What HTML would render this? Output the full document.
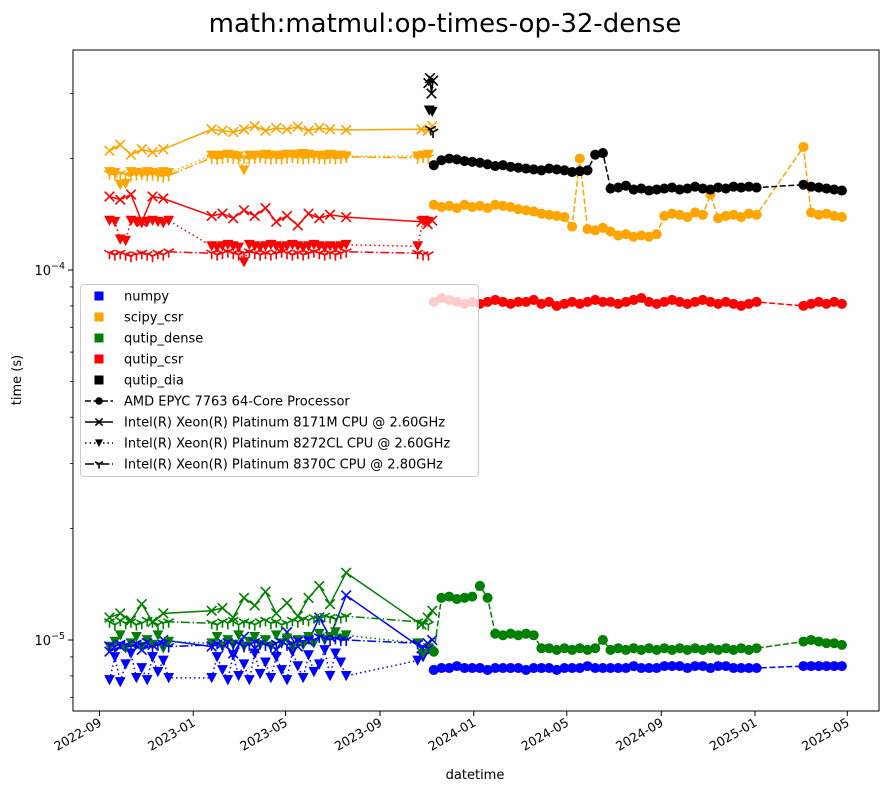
<!DOCTYPE html>
<html><head><meta charset="utf-8"><style>
body{margin:0;background:#fff;font-family:"Liberation Sans","DejaVu Sans",sans-serif}
svg text{font-family:"DejaVu Sans","Liberation Sans",sans-serif}
</style></head><body>
<svg id="chart" width="887" height="792" viewBox="0 0 887 792" xmlns="http://www.w3.org/2000/svg">
<rect x="0" y="0" width="887" height="792" fill="#fff"/>
<text x="445" y="32" font-size="26" text-anchor="middle">math:matmul:op-times-op-32-dense</text>
<text x="475" y="779" font-size="13" text-anchor="middle">datetime</text>
<text x="21" y="380" font-size="13" text-anchor="middle" transform="rotate(-90 21 380)">time (s)</text>
<g id="marks"></g>
<g id="axes"></g>
<g id="legend"></g>
</svg>
<script>
// ---- data (values in microseconds) ----
const amdDates=["2023-11-10","2023-11-20","2023-11-30","2023-12-10","2023-12-20","2023-12-30","2024-01-09","2024-01-19","2024-01-29","2024-02-08","2024-02-18","2024-02-28","2024-03-09","2024-03-19","2024-03-29","2024-04-08","2024-04-18","2024-04-28","2024-05-08","2024-05-18","2024-05-28","2024-06-07","2024-06-17","2024-06-27","2024-07-07","2024-07-17","2024-07-27","2024-08-06","2024-08-16","2024-08-26","2024-09-05","2024-09-15","2024-09-25","2024-10-05","2024-10-15","2024-10-25","2024-11-04","2024-11-14","2024-11-24","2024-12-04","2024-12-14","2024-12-24","2025-01-03","2025-03-05","2025-03-15","2025-03-25","2025-04-04","2025-04-14","2025-04-24"];
const amdNumpy=[8.3,8.4,8.4,8.5,8.4,8.4,8.4,8.3,8.4,8.4,8.4,8.4,8.3,8.4,8.4,8.4,8.3,8.4,8.4,8.4,8.5,8.4,8.4,8.4,8.4,8.4,8.5,8.4,8.4,8.4,8.5,8.5,8.5,8.4,8.5,8.5,8.4,8.5,8.5,8.4,8.4,8.4,8.4,8.5,8.5,8.5,8.5,8.5,8.5];
const amdScipy=[150,148,149,147,150,148,149,147,150,149,148,146,145,144,142,141,140,139,131,200,129,128,130,127,124,125,123,124,123,125,140,142,141,139,143,141,160,138,140,141,139,142,141,215,143,141,142,140,139];
const amdDense=[9.3,13.0,13.1,12.9,13.0,13.1,14.0,13.0,10.4,10.3,10.4,10.3,10.4,10.3,9.5,9.5,9.4,9.5,9.4,9.5,9.4,9.5,10.0,9.4,9.5,9.4,9.5,9.4,9.5,9.4,9.5,9.4,9.5,9.4,9.5,9.4,9.5,9.4,9.5,9.4,9.5,9.4,9.5,9.9,10.0,9.9,9.8,9.8,9.7];
const amdCsr=[82,84,83,82,81,82,81,82,83,82,81,82,82,83,81,82,80,81,82,81,82,83,82,82,81,82,83,84,82,81,82,83,82,81,82,83,82,81,82,81,80,81,82,80,81,82,81,82,81];
const amdDia=[192,198,200,199,197,196,195,193,191,192,190,189,188,187,186,188,187,186,184,185,186,205,207,166,167,169,165,166,164,165,166,167,165,166,168,166,165,167,166,168,167,168,167,170,168,167,166,165,164];

const m1Dates=["2022-09-14","2022-09-28","2022-10-12","2022-10-26","2022-11-09","2022-11-23","2023-01-25","2023-02-08","2023-02-22","2023-03-08","2023-03-22","2023-04-05","2023-04-19","2023-05-03","2023-05-17","2023-05-31","2023-06-14","2023-06-28","2023-07-19","2023-10-25","2023-11-02","2023-11-08"];
const m1Numpy=[9.3,9.6,9.8,9.4,9.7,10.0,9.6,9.8,9.2,10.2,9.5,9.9,9.4,10.5,9.6,9.9,11.5,10.2,13.2,9.5,9.8,10.0];
const m1Scipy=[210,218,205,212,208,212,240,238,236,240,245,238,242,240,244,238,242,240,239,240,238,245];
const m1Dense=[11.5,11.8,11.3,12.5,11.2,11.8,12.0,12.2,11.5,13.0,12.4,13.5,11.8,12.6,11.6,13.0,14.0,12.5,15.2,11.0,11.5,12.0];
const m1Csr=[158,155,160,135,158,156,140,142,138,145,140,147,135,140,132,142,138,141,139,135,133,136];
const m1DiaDates=["2023-11-03","2023-11-05","2023-11-07","2023-11-09"];
const m1Dia=[320,330,300,325];

const m2Dates=["2022-09-14","2022-09-21","2022-09-28","2022-10-05","2022-10-12","2022-10-19","2022-10-26","2022-11-02","2022-11-09","2022-11-16","2022-11-23","2022-11-30","2023-01-25","2023-02-01","2023-02-08","2023-02-15","2023-02-22","2023-03-01","2023-03-08","2023-03-15","2023-03-22","2023-03-29","2023-04-05","2023-04-12","2023-04-19","2023-04-26","2023-05-03","2023-05-10","2023-05-17","2023-05-24","2023-05-31","2023-06-07","2023-06-14","2023-06-21","2023-06-28","2023-07-05","2023-07-12","2023-07-19","2023-10-20","2023-10-27","2023-11-03"];
const m2Numpy=[7.8,9.0,7.7,8.6,9.2,7.9,8.4,7.8,9.0,8.2,8.8,7.9,7.9,9.0,8.3,7.8,9.1,8.0,8.6,7.8,9.2,8.1,8.7,7.9,9.0,8.3,7.8,9.3,8.5,7.9,9.1,8.2,8.6,9.4,8.0,9.2,8.7,8.0,8.8,9.0,9.5];
const m2Scipy=[184,183,170,171,184,183,182,184,183,182,184,183,204,203,204,205,204,203,186,204,203,204,205,204,203,204,205,204,205,206,205,204,203,204,205,204,204,203,203,204,205];
const m2Dense=[9.6,9.9,10.3,9.5,9.8,10.2,9.6,10.0,9.7,10.3,9.5,9.9,9.8,10.2,9.6,10.0,9.7,10.3,9.6,9.9,10.2,9.7,10.0,9.6,10.3,9.8,10.1,9.6,10.0,9.7,10.2,9.8,10.4,10.0,10.2,10.5,10.1,10.3,9.8,9.2,9.5];
const m2Csr=[136,135,121,120,136,135,134,135,136,135,134,136,116,115,116,117,116,115,105,117,116,115,116,117,116,115,116,117,116,115,116,117,116,115,116,115,116,117,116,136,135];
const m2DiaDates=["2023-11-04","2023-11-08"];
const m2Dia=[270,268];

const m3Dates=m2Dates;
const m3Numpy=[9.7,9.6,9.8,9.7,9.6,9.8,9.7,9.9,9.6,9.7,9.8,9.6,9.7,9.8,9.6,9.9,9.7,9.8,9.6,9.7,9.9,9.8,9.7,9.6,9.8,9.9,9.7,9.8,10.0,9.9,10.1,10.0,10.2,10.1,10.0,10.1,10.0,10.0,9.8,9.6,9.5];
const m3Scipy=[182,181,182,181,180,181,182,180,181,180,179,180,201,200,201,202,201,200,201,200,201,202,201,200,201,200,201,202,201,200,201,202,201,200,201,200,201,202,201,202,201];
const m3Dense=[11.2,11.0,11.3,11.1,11.2,11.0,11.1,11.3,11.2,11.0,11.1,11.2,11.1,11.0,11.2,11.1,11.3,11.0,11.2,11.1,11.0,11.2,11.3,11.1,11.2,11.0,11.1,11.3,11.2,11.4,11.3,11.5,11.4,11.6,11.5,11.4,11.5,11.6,11.2,11.1,11.0];
const m3Csr=[111,110,111,110,109,110,111,110,109,111,110,112,111,110,111,112,111,110,111,112,111,110,111,110,111,112,111,110,111,110,111,112,111,110,111,110,111,112,111,110,110];
const m3DiaDates=["2023-11-06","2023-11-09"];
const m3Dia=[240,236];

const xTickLabels=["2022-09","2023-01","2023-05","2023-09","2024-01","2024-05","2024-09","2025-01","2025-05"];
const legendNames=["numpy","scipy_csr","qutip_dense","qutip_csr","qutip_dia"];
const cpuNames=["AMD EPYC 7763 64-Core Processor","Intel(R) Xeon(R) Platinum 8171M CPU @ 2.60GHz","Intel(R) Xeon(R) Platinum 8272CL CPU @ 2.60GHz","Intel(R) Xeon(R) Platinum 8370C CPU @ 2.80GHz"];

// ---- scales ----
const NS="http://www.w3.org/2000/svg";
const L=73,R=879,T=50,B=711;
const T0=Date.UTC(2022,8,1);
function xs(d){const p=d.split("-").map(Number);const t=Date.UTC(p[0],p[1]-1,p[2]||1);return 99.5+(t-T0)/864e5*0.7685;}
function ys(us){return 270-370*Math.log10(us/100);}
function el(tag,attrs,parent){const e=document.createElementNS(NS,tag);for(const k in attrs)e.setAttribute(k,attrs[k]);parent.appendChild(e);return e;}
const colors={numpy:"#0000ff",scipy_csr:"#ffa500",qutip_dense:"#008000",qutip_csr:"#ff0000",qutip_dia:"#000000"};
const dashes={amd:"6,2.5",m1:"",m2:"1.5,3",m3:"9,2.5,1.5,2.5"};

function marker(kind,x,y,c,g,s){
  s=s||1.2;
  let m;
  if(kind==="amd"){m=el("circle",{cx:x,cy:y,r:4.2*s,fill:c},g);}
  else if(kind==="m1"){const a=4*s;m=el("path",{d:`M${x-a},${y-a}L${x+a},${y+a}M${x-a},${y+a}L${x+a},${y-a}`,stroke:c,"stroke-width":1.6,fill:"none"},g);}
  else if(kind==="m2"){const a=4.5*s;m=el("path",{d:`M${x-a},${y-a*0.9}L${x+a},${y-a*0.9}L${x},${y+a}Z`,fill:c},g);}
  else {const a=5*s;m=el("path",{d:`M${x},${y}L${x},${y+a}M${x},${y}L${x-a*0.86},${y-a*0.5}M${x},${y}L${x+a*0.86},${y-a*0.5}`,stroke:c,"stroke-width":1.6,fill:"none"},g);}
  return m;
}
function series(name,kind,dates,vals,color){
  const g=el("g",{},document.getElementById("marks"));
  
  
  const pts=vals.map((v,i)=>[xs(dates[i]),ys(v)]);
  const ln=el("polyline",{points:pts.map(p=>p[0].toFixed(1)+","+p[1].toFixed(1)).join(" "),fill:"none",stroke:color,"stroke-width":1.5,"stroke-dasharray":dashes[kind]},g);
  
  
  pts.forEach(p=>{
    const m=marker(kind,p[0],p[1],color,g);
    
    
  });
}
series("numpy-8171m","m1",m1Dates,m1Numpy,colors.numpy);
series("scipy-csr-8171m","m1",m1Dates,m1Scipy,colors.scipy_csr);
series("qutip-dense-8171m","m1",m1Dates,m1Dense,colors.qutip_dense);
series("qutip-csr-8171m","m1",m1Dates,m1Csr,colors.qutip_csr);
series("qutip-dia-8171m","m1",m1DiaDates,m1Dia,colors.qutip_dia);
series("numpy-8272cl","m2",m2Dates,m2Numpy,colors.numpy);
series("scipy-csr-8272cl","m2",m2Dates,m2Scipy,colors.scipy_csr);
series("qutip-dense-8272cl","m2",m2Dates,m2Dense,colors.qutip_dense);
series("qutip-csr-8272cl","m2",m2Dates,m2Csr,colors.qutip_csr);
series("qutip-dia-8272cl","m2",m2DiaDates,m2Dia,colors.qutip_dia);
series("numpy-8370c","m3",m3Dates,m3Numpy,colors.numpy);
series("scipy-csr-8370c","m3",m3Dates,m3Scipy,colors.scipy_csr);
series("qutip-dense-8370c","m3",m3Dates,m3Dense,colors.qutip_dense);
series("qutip-csr-8370c","m3",m3Dates,m3Csr,colors.qutip_csr);
series("qutip-dia-8370c","m3",m3DiaDates,m3Dia,colors.qutip_dia);
series("numpy-amd","amd",amdDates,amdNumpy,colors.numpy);
series("scipy-csr-amd","amd",amdDates,amdScipy,colors.scipy_csr);
series("qutip-dense-amd","amd",amdDates,amdDense,colors.qutip_dense);
series("qutip-csr-amd","amd",amdDates,amdCsr,colors.qutip_csr);
series("qutip-dia-amd","amd",amdDates,amdDia,colors.qutip_dia);

// ---- axes ----
const ax=document.getElementById("axes");
const frame=el("rect",{x:L,y:T,width:R-L,height:B-T,fill:"none",stroke:"#000","stroke-width":1},ax);


xTickLabels.forEach(lbl=>{
  const x=xs(lbl+"-01");
  const t=el("line",{x1:x,y1:B,x2:x,y2:B+5,stroke:"#000"},ax);
  
  
  const tx=el("text",{x:x+3,y:B+14,"font-size":12.5,"text-anchor":"end",transform:`rotate(-30 ${x+3} ${B+14})`},ax);
  tx.textContent=lbl;
  
  
});
[10,100].forEach((v,i)=>{
  const y=ys(v);
  const t=el("line",{x1:L-5,y1:y,x2:L,y2:y,stroke:"#000"},ax);
  
  
  const tx=el("text",{x:L-8,y:y+5,"font-size":13,"text-anchor":"end"},ax);
  tx.innerHTML=`10<tspan dy="-6" font-size="9.5">−${i?4:5}</tspan>`;
  
  
});
[7,8,9,20,30,40,50,60,70,80,90,200,300].forEach(v=>{
  const y=ys(v); if(y<T||y>B) return;
  const t=el("line",{x1:L-3,y1:y,x2:L,y2:y,stroke:"#000","stroke-width":0.8},ax);
  
  
});

// ---- legend ----
const lg=document.getElementById("legend");
const box=el("rect",{x:80.5,y:284.5,width:398,height:192,rx:3,fill:"#fff","fill-opacity":0.8,stroke:"#ccc"},lg);


const legColors=[colors.numpy,colors.scipy_csr,colors.qutip_dense,colors.qutip_csr,colors.qutip_dia];
legendNames.forEach((n,i)=>{
  const y=296+i*21;
  const r=el("rect",{x:94.5,y:y-4.5,width:9,height:9,fill:legColors[i]},lg);
  
  
  const t=el("text",{x:124,y:y+4.5,"font-size":13},lg);
  t.textContent=n;
  
  
});
["amd","m1","m2","m3"].forEach((k,i)=>{
  const y=296+(i+5)*21;
  const l=el("line",{x1:85,y1:y,x2:113,y2:y,stroke:"#000","stroke-width":1.5,"stroke-dasharray":dashes[k]},lg);
  
  
  const m=marker(k,99,y,"#000",lg,0.9);
  
  
  const t=el("text",{x:124,y:y+4.5,"font-size":13},lg);
  t.textContent=cpuNames[i];
  
  
});
</script>
</body></html>
